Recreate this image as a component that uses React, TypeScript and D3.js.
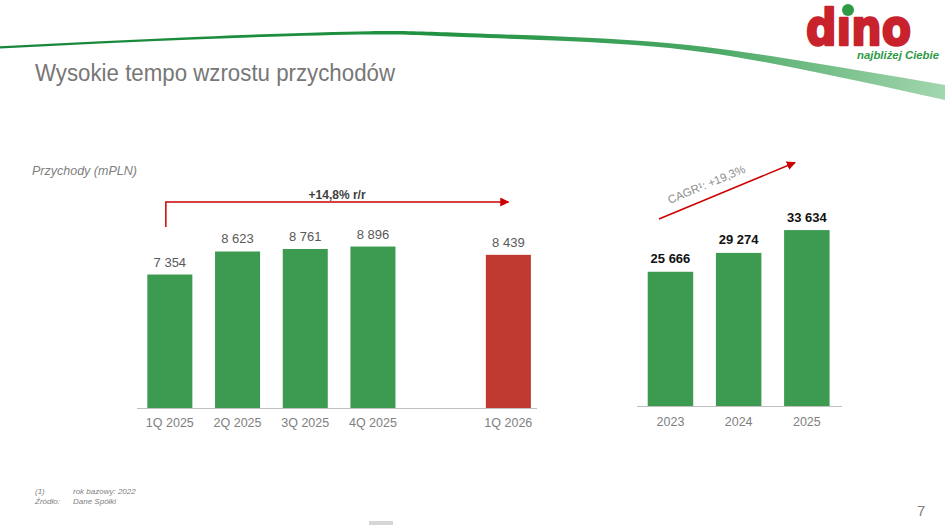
import * as d3 from "d3";

// quarterly revenue (mPLN)
const quarters = ["1Q 2025", "2Q 2025", "3Q 2025", "4Q 2025", "", "1Q 2026"];
const quarterValues = [7354, 8623, 8761, 8896, null, 8439];
const quarterLabels = ["7 354", "8 623", "8 761", "8 896", "", "8 439"];

// yearly revenue (mPLN)
const years = ["2023", "2024", "2025"];
const yearValues = [25666, 29274, 33634];
const yearLabels = ["25 666", "29 274", "33 634"];

const yoyLabel = "+14,8% r/r";
const cagrLabel = "CAGR¹: +19,3%";

const W = 945;
const H = 525;
const FONT = "'Liberation Sans', Arial, sans-serif";
const GREEN = "#3d9a51";
const RED = "#c0392f";
const ARROW = "#cc0000";

// swoosh edges (decoration)
const swooshTop: [number, number][] = [
  [0, 46.3], [200, 36.8], [370, 31.2], [470, 33.3], [635, 40.5], [780, 57.5], [945, 85],
];
const swooshBottom: [number, number][] = [
  [0, 48.5], [200, 39.3], [370, 34.5], [470, 37.3], [635, 45], [780, 65], [945, 100],
];

export default function App() {
  // left chart
  const xL = d3.scaleBand<string>().domain(quarters).range([136.5, 541.7]).paddingInner(0.335).paddingOuter(0.16);
  const yL = d3.scaleLinear().domain([0, 10000]).range([408, 226.5]);
  const bwL = xL.bandwidth();

  // right chart
  const xR = d3.scaleBand<string>().domain(years).range([637, 840.3]).paddingInner(0.333).paddingOuter(0.157);
  const yR = d3.scaleLinear().domain([0, 40000]).range([406, 196.8]);
  const bwR = xR.bandwidth();

  const edge = d3.line().curve(d3.curveNatural);
  const topPath = edge(swooshTop) || "";
  const bottomPath = edge([...swooshBottom].reverse()) || "";
  const swoosh = topPath + "L" + bottomPath.slice(1) + "Z";

  const arrowX0 = (xL(quarters[0]) || 0) + bwL / 2 - 4;
  const arrowX1 = (xL(quarters[5]) || 0) + bwL / 2;

  const cagrA: [number, number] = [659, 219];
  const cagrB: [number, number] = [795, 162.5];
  const ang = (Math.atan2(cagrB[1] - cagrA[1], cagrB[0] - cagrA[0]) * 180) / Math.PI;

  return (
    <svg
      width={W}
      height={H}
      style={{ position: "absolute", left: 0, top: 0, background: "#fff" }}
      fontFamily={FONT}
    >
      <defs>
        <linearGradient id="swooshGrad" x1="0" y1="0" x2={W} y2="0" gradientUnits="userSpaceOnUse">
          <stop offset="0%" stopColor="#17863a" />
          <stop offset="45%" stopColor="#1f9140" />
          <stop offset="75%" stopColor="#4aa865" />
          <stop offset="100%" stopColor="#a3d6ae" />
        </linearGradient>
        <marker id="head" viewBox="0 0 10 10" refX="9" refY="5" markerWidth="9" markerHeight="9" markerUnits="userSpaceOnUse" orient="auto">
          <path d="M0,0 L10,5 L0,10 Z" fill={ARROW} />
        </marker>
      </defs>

      {/* header */}
      <path d={swoosh} fill="url(#swooshGrad)" />
      <text x={35} y={81} fontSize={23} fill="#777" textLength={360} lengthAdjust="spacingAndGlyphs">
        Wysokie tempo wzrostu przychodów
      </text>

      {/* logo */}
      <text
        x={806}
        y={45}
        fontSize={50}
        fontWeight={900}
        fill="#c8232c"
        stroke="#c8232c"
        strokeWidth={2.5}
        strokeLinejoin="round"
        fontFamily="'DejaVu Sans', sans-serif"
        textLength={105}
        lengthAdjust="spacingAndGlyphs"
      >
        dıno
      </text>
      <circle cx={848} cy={10} r={6} fill="#2f9a45" />
      <text x={857} y={59} fontSize={10.5} fontStyle="italic" fontWeight={700} fill="#2f9a45" textLength={82} lengthAdjust="spacingAndGlyphs">
        najbliżej Ciebie
      </text>

      <text x={32} y={175} fontSize={12.5} fontStyle="italic" fill="#7f7f7f">
        Przychody (mPLN)
      </text>

      {/* left chart: quarters */}
      <g>
        {quarters.map((q, i) =>
          quarterValues[i] == null ? null : (
            <rect
              key={q}
              x={xL(q)}
              y={yL(quarterValues[i] as number)}
              width={bwL}
              height={yL(0) - yL(quarterValues[i] as number)}
              fill={i === 5 ? RED : GREEN}
            />
          )
        )}
        {quarters.map((q, i) =>
          quarterValues[i] == null ? null : (
            <text
              key={q + "v"}
              x={(xL(q) || 0) + bwL / 2}
              y={yL(quarterValues[i] as number) - 8}
              textAnchor="middle"
              fontSize={13}
              fill="#595959"
            >
              {quarterLabels[i]}
            </text>
          )
        )}
        <line x1={137} x2={537} y1={yL(0) + 0.5} y2={yL(0) + 0.5} stroke="#bfbfbf" strokeWidth={1.2} />
        {quarters.map((q) =>
          q === "" ? null : (
            <text key={q + "c"} x={(xL(q) || 0) + bwL / 2} y={427} textAnchor="middle" fontSize={12.5} fill="#808080">
              {q}
            </text>
          )
        )}
        <path
          d={`M${arrowX0},227 L${arrowX0},202 L${arrowX1},202`}
          fill="none"
          stroke={ARROW}
          strokeWidth={1.5}
          markerEnd="url(#head)"
        />
        <text x={(arrowX0 + arrowX1) / 2} y={198.5} textAnchor="middle" fontSize={12} fontWeight={700} fill="#404040">
          {yoyLabel}
        </text>
      </g>

      {/* right chart: years */}
      <g>
        {years.map((y, i) => (
          <rect key={y} x={xR(y)} y={yR(yearValues[i])} width={bwR} height={yR(0) - yR(yearValues[i])} fill={GREEN} />
        ))}
        {years.map((y, i) => (
          <text
            key={y + "v"}
            x={(xR(y) || 0) + bwR / 2}
            y={yR(yearValues[i]) - 8.5}
            textAnchor="middle"
            fontSize={13}
            fontWeight={700}
            fill="#111"
          >
            {yearLabels[i]}
          </text>
        ))}
        <line x1={637} x2={842} y1={yR(0) + 0.5} y2={yR(0) + 0.5} stroke="#bfbfbf" strokeWidth={1.2} />
        {years.map((y) => (
          <text key={y + "c"} x={(xR(y) || 0) + bwR / 2} y={426} textAnchor="middle" fontSize={12.5} fill="#808080">
            {y}
          </text>
        ))}
        <line
          x1={cagrA[0]}
          y1={cagrA[1]}
          x2={cagrB[0]}
          y2={cagrB[1]}
          stroke={ARROW}
          strokeWidth={1.5}
          markerEnd="url(#head)"
        />
        <text
          transform={`translate(708,188) rotate(${ang})`}
          textAnchor="middle"
          fontSize={11.5}
          fill="#8c8c8c"
        >
          {cagrLabel}
        </text>
      </g>

      {/* footer */}
      <g fontSize={8} fontStyle="italic" fill="#808080">
        <text x={35} y={494}>(1)</text>
        <text x={73} y={494}>rok bazowy: 2022</text>
        <text x={35} y={504}>Źródło:</text>
        <text x={73} y={504}>Dane Spółki</text>
      </g>
      <text x={917} y={516} fontSize={15} fill="#808080">7</text>
      <rect x={369} y={521} width={24} height={4} fill="#d6d6d6" />
    </svg>
  );
}
